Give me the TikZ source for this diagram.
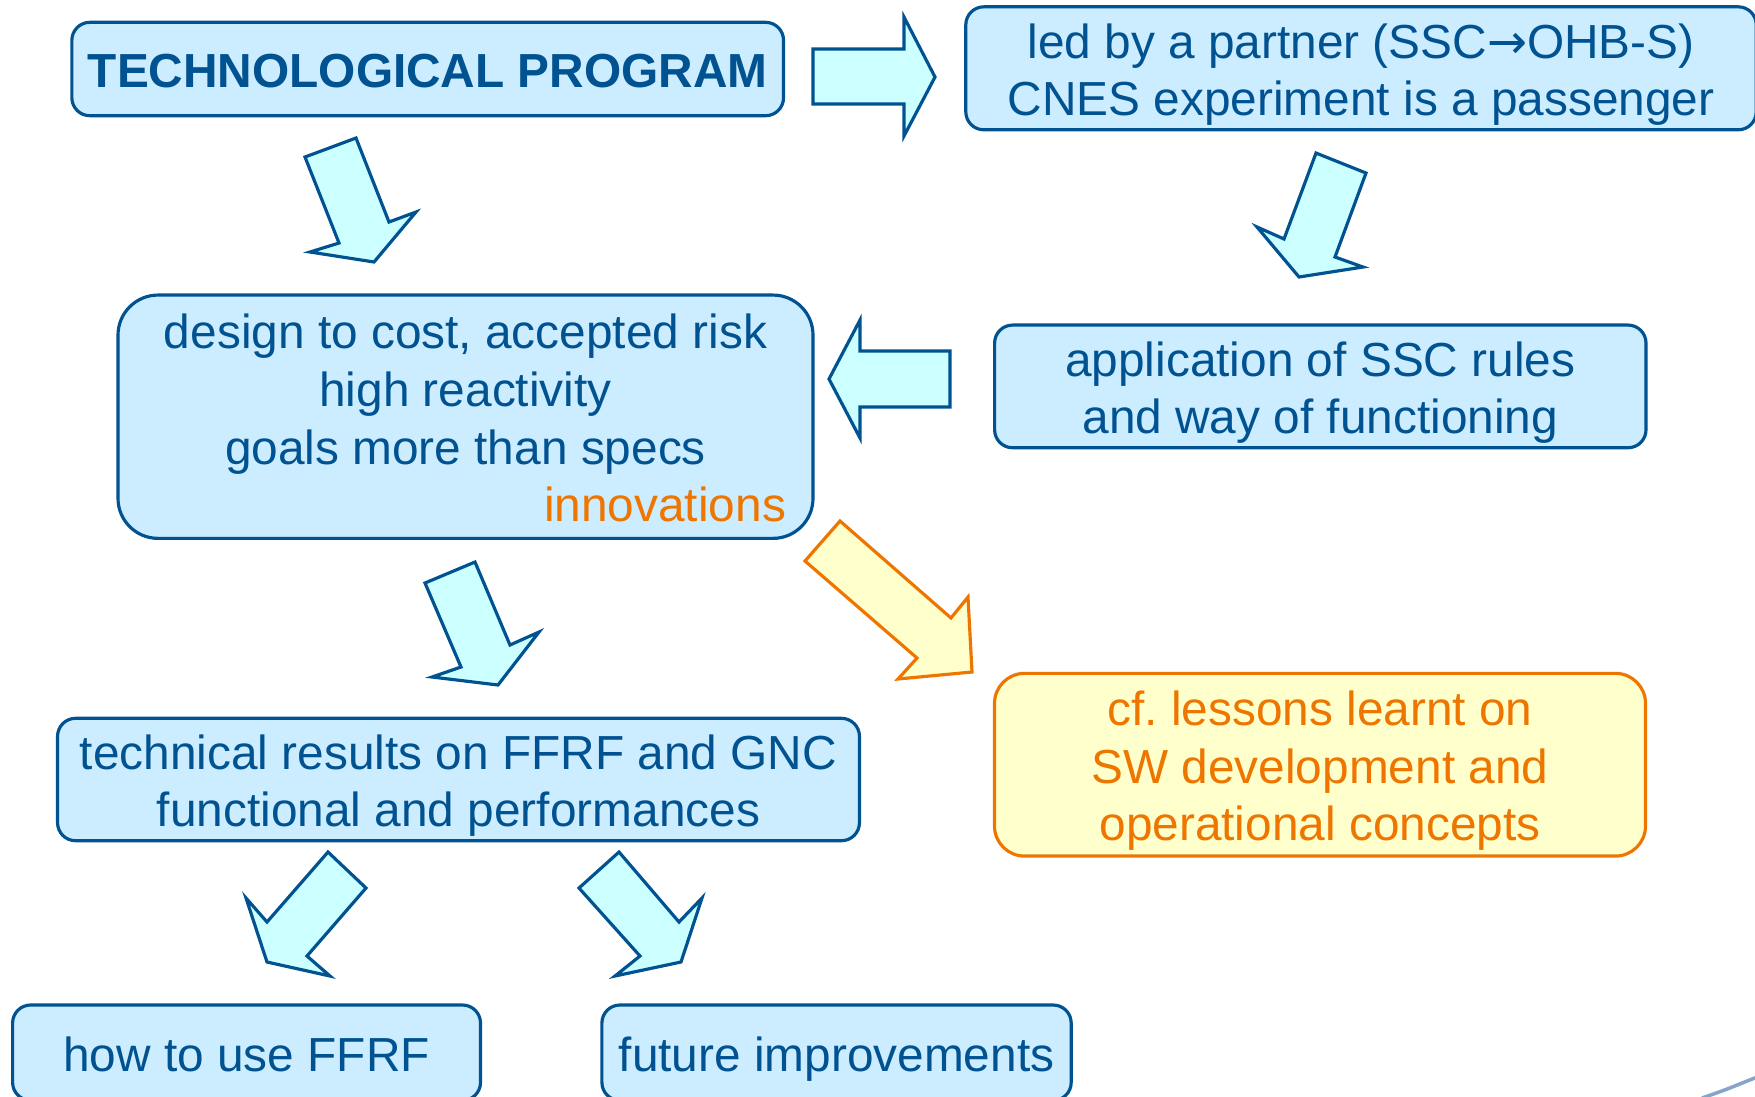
\documentclass[tikz,border=0pt]{standalone}
\usepackage{fontspec}
\setmainfont{Liberation Sans}
\newfontfamily\arrowfont{DejaVu Sans}

\definecolor{dkblue}{RGB}{0,82,145}
\definecolor{boxblue}{RGB}{204,236,255}
\definecolor{arrowcyan}{RGB}{204,255,255}
\definecolor{dkorange}{RGB}{238,118,0}
\definecolor{paleyellow}{RGB}{255,255,204}

% line box as the slide sets it: ascent and descent of the font
\newcommand{\boxstrut}{\rule[-0.212em]{0pt}{1.2em}}

\begin{document}
\begin{tikzpicture}[
    every node/.append style={font=\fontsize{13.6}{16.4}\selectfont},
    bluebox/.style={draw=dkblue, fill=boxblue, line width=0.9pt, rounded corners=0.18cm,
                    text=dkblue, align=center, inner sep=0pt},
    orangebox/.style={draw=dkorange, fill=paleyellow, line width=0.9pt, rounded corners=0.3cm,
                      text=dkorange, align=center, inner sep=0pt},
    bluearrow/.style={draw=dkblue, fill=arrowcyan, line width=0.9pt},
    orangearrow/.style={draw=dkorange, fill=paleyellow, line width=0.9pt}
  ]
    \useasboundingbox (0,0) rectangle (17.55,-10.96);

    % boxes
    \node[bluebox, minimum width=7.117cm, minimum height=0.934cm,
          font=\fontsize{13.6}{16.4}\selectfont\bfseries] (techprog) at (4.277,-0.69) {\boxstrut TECHNOLOGICAL PROGRAM};
    \node[bluebox, minimum width=7.904cm, minimum height=1.23cm] (partner) at (13.61,-0.683)
        {\boxstrut led by a partner (SSC{\arrowfont →}OHB-S)\\CNES experiment is a passenger\boxstrut};
    \node[bluebox, rounded corners=0.4cm, minimum width=6.95cm, minimum height=2.433cm,
          text width=6.41cm, align=flush center] (design) at (4.655,-4.167)
        {\boxstrut design to cost, accepted risk\\high reactivity\\goals more than specs\\
         \hspace*{0pt plus 1filll}\textcolor{dkorange}{innovations}\boxstrut};
    \node[bluebox, minimum width=6.514cm, minimum height=1.227cm] (sscrules) at (13.203,-3.864)
        {\boxstrut application of SSC rules\\and way of functioning\boxstrut};
    \node[bluebox, minimum width=8.019cm, minimum height=1.224cm] (results) at (4.585,-7.795)
        {\boxstrut technical results on FFRF and GNC\\functional and performances\boxstrut};
    \node[orangebox, minimum width=6.51cm, minimum height=1.827cm] (lessons) at (13.2,-7.647)
        {\boxstrut cf.\ lessons learnt on\\SW development and\\operational concepts\boxstrut};
    \node[bluebox, minimum width=4.679cm, minimum height=0.954cm] (howto) at (2.4655,-10.527) {\boxstrut how to use FFRF};
    \node[bluebox, minimum width=4.693cm, minimum height=0.954cm] (future) at (8.3655,-10.527) {\boxstrut future improvements};

    % block arrows
    \filldraw[bluearrow] (8.13,-0.49) -- (9.04,-0.49) -- (9.04,-0.17) -- (9.35,-0.77) -- (9.04,-1.36) -- (9.04,-1.04) -- (8.13,-1.04) -- cycle;
    \filldraw[bluearrow] (3.05,-1.57) -- (3.56,-1.38) -- (3.89,-2.22) -- (4.16,-2.12) -- (3.74,-2.62) -- (3.10,-2.52) -- (3.39,-2.43) -- cycle;
    \filldraw[bluearrow] (13.16,-1.53) -- (13.66,-1.73) -- (13.35,-2.57) -- (13.63,-2.67) -- (12.99,-2.77) -- (12.57,-2.27) -- (12.84,-2.39) -- cycle;
    \filldraw[bluearrow] (9.50,-3.51) -- (8.60,-3.51) -- (8.60,-3.20) -- (8.29,-3.79) -- (8.60,-4.38) -- (8.60,-4.07) -- (9.50,-4.07) -- cycle;
    \filldraw[bluearrow] (4.25,-5.83) -- (4.75,-5.62) -- (5.10,-6.45) -- (5.39,-6.32) -- (4.98,-6.85) -- (4.32,-6.77) -- (4.61,-6.67) -- cycle;
    \filldraw[orangearrow] (8.40,-5.21) -- (9.51,-6.18) -- (9.68,-5.97) -- (9.72,-6.72) -- (8.98,-6.79) -- (9.17,-6.58) -- (8.05,-5.61) -- cycle;
    \filldraw[bluearrow] (3.28,-8.52) -- (3.66,-8.88) -- (3.07,-9.56) -- (3.30,-9.76) -- (2.67,-9.62) -- (2.46,-8.98) -- (2.67,-9.22) -- cycle;
    \filldraw[bluearrow] (6.19,-8.52) -- (5.79,-8.88) -- (6.40,-9.56) -- (6.15,-9.76) -- (6.81,-9.62) -- (7.02,-8.98) -- (6.79,-9.22) -- cycle;

    \draw[line width=1pt, color={rgb,255:red,135;green,165;blue,200}] (17.02,-10.98) .. controls (17.25,-10.90) .. (17.57,-10.77);
\end{tikzpicture}
\end{document}
